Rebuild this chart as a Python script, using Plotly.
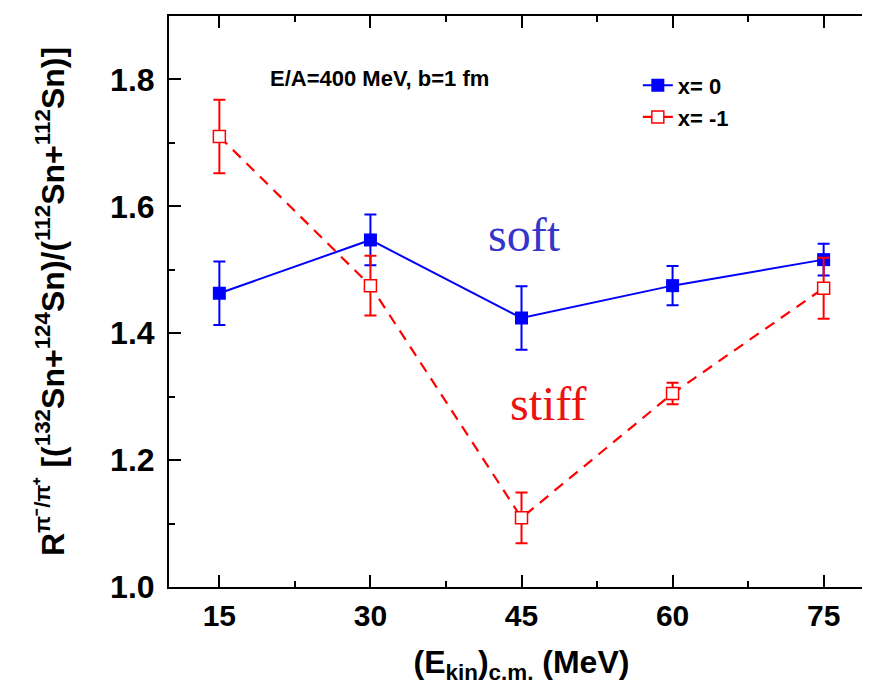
import plotly.graph_objects as go

energies = [15, 30, 45, 60, 75]
soft_vals = [1.463, 1.547, 1.424, 1.475, 1.516]
soft_err = [0.050, 0.040, 0.050, 0.031, 0.025]
stiff_vals = [1.710, 1.475, 1.109, 1.305, 1.471]
stiff_err = [0.058, 0.047, 0.040, 0.017, 0.048]
x_ticks = [15, 30, 45, 60, 75]
y_ticks = [1.0, 1.2, 1.4, 1.6, 1.8]
y_ticklabels = ["1.0", "1.2", "1.4", "1.6", "1.8"]

BLUE = "#0000ff"
RED = "#ff0000"
FONT = "Liberation Sans, Arial, sans-serif"
SERIF = "Liberation Serif, Times New Roman, serif"

fig = go.Figure()
fig.add_trace(go.Scatter(
    x=energies, y=soft_vals, name="<b>x= 0</b>", mode="lines+markers",
    legendgroup="a",
    line=dict(color=BLUE, width=2),
    marker=dict(symbol="square", size=13, color=BLUE),
    error_y=dict(type="data", array=soft_err, color=BLUE, thickness=2, width=6),
))
fig.add_trace(go.Scatter(
    x=energies, y=stiff_vals, name="<b>x= -1</b>", mode="lines+markers",
    legendgroup="b",
    line=dict(color=RED, width=2.2, dash="11px,8px"),
    marker=dict(symbol="square", size=12, color="white", line=dict(color=RED, width=1.5)),
    error_y=dict(type="data", array=stiff_err, color=RED, thickness=2, width=6),
))

fig.add_annotation(x=45.3, y=1.555, text="soft", showarrow=False,
                   font=dict(family=SERIF, size=48, color="#3535cc"))
fig.add_annotation(x=47.6, y=1.29, text="stiff", showarrow=False,
                   font=dict(family=SERIF, size=48, color="#ee1111"))
fig.add_annotation(x=0.14, y=0.891, xref="paper", yref="paper", xanchor="left", yanchor="middle",
                   text="<b>E/A=400 MeV, b=1 fm</b>", showarrow=False,
                   font=dict(family=FONT, size=22, color="black"))

axis_common = dict(showline=True, linecolor="black", linewidth=2, mirror="ticks",
                   ticks="inside", ticklen=12, tickwidth=2, tickcolor="black",
                   showgrid=False, zeroline=False)

fig.update_xaxes(range=[10, 80], tickvals=x_ticks,
                 ticktext=[f"<b>{v}</b>" for v in x_ticks],
                 tickfont=dict(family=FONT, size=30, color="black"),
                 ticklabelstandoff=1,
                 minor=dict(ticks="inside", ticklen=6, tickwidth=2, tickcolor="black", dtick=7.5, tick0=0),
                 title=dict(text="<b>(E<sub>kin</sub>)<sub>c.m.</sub> (MeV)</b>",
                            font=dict(family=FONT, size=32, color="black"), standoff=20),
                 **axis_common)
fig.update_yaxes(range=[1.0, 1.9], tickvals=y_ticks,
                 ticktext=[f"<b>{t}</b>" for t in y_ticklabels],
                 tickfont=dict(family=FONT, size=32, color="black"),
                 ticklabelstandoff=6,
                 minor=dict(ticks="inside", ticklen=6, tickwidth=2, tickcolor="black", dtick=0.1, tick0=1.0),
                 title=dict(text="<b>R<sup>π⁻/π⁺</sup> [(<sup>132</sup>Sn+<sup>124</sup>Sn)/(<sup>112</sup>Sn+<sup>112</sup>Sn)]</b>",
                            font=dict(family=FONT, size=32, color="black"), standoff=36),
                 **axis_common)

fig.update_layout(
    width=870, height=695,
    margin=dict(l=161, r=2, t=8, b=116),
    plot_bgcolor="white", paper_bgcolor="white",
    showlegend=True,
    legend=dict(x=0.665, y=0.915, xanchor="left", yanchor="top",
                bgcolor="rgba(0,0,0,0)", borderwidth=0,
                font=dict(family=FONT, size=22, color="black"),
                tracegroupgap=0),
)

fig.write_html("out.html")
